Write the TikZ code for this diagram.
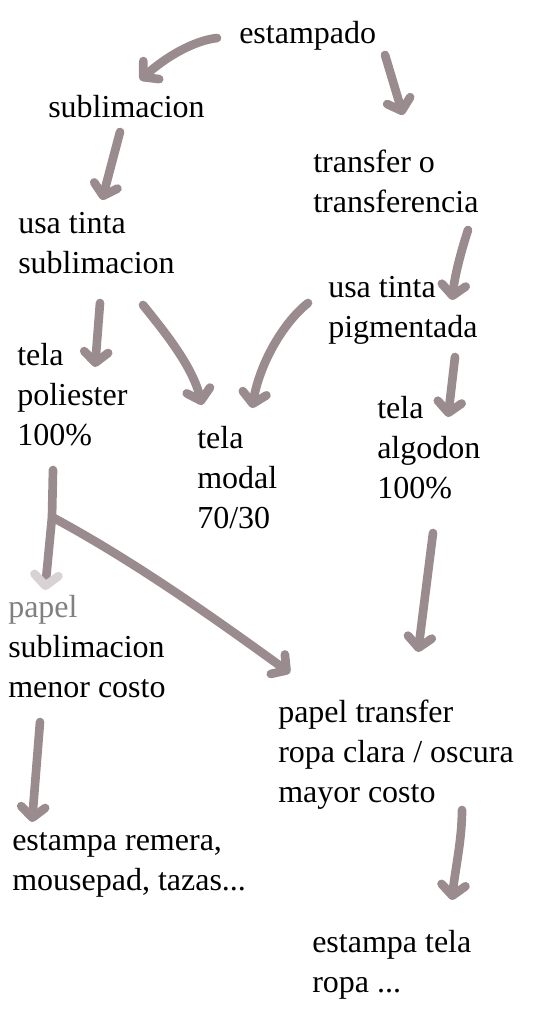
\documentclass[tikz,border=0pt]{standalone}
\usepackage{fontspec}
\setmainfont{Liberation Serif}
\usetikzlibrary{arrows.meta,calc}

\definecolor{inkbrown}{RGB}{154,140,142}
\definecolor{inkpale}{RGB}{216,210,212}
\definecolor{textgray}{RGB}{128,128,128}

\tikzset{
  lbl/.style={anchor=base west, inner sep=0pt, align=left,
    font=\fontsize{24}{30}\selectfont},
  pen/.style={draw=inkbrown, line width=6.5pt, line cap=round, line join=round,
    -{Straight Barb[length=8pt,width=18pt,round]}},
  palehead/.style={-{Straight Barb[length=8pt,width=18pt,round,color=inkpale]}}
}

\begin{document}
\begin{tikzpicture}[x=0.75pt,y=-0.75pt]
  \useasboundingbox (0,0) rectangle (544,1021);

  % texts (placed at the baseline of their last line)
  \node[lbl] (estampado) at (239,43) {estampado};
  \node[lbl] (sublim) at (48,117) {sublimacion};
  \node[lbl] (transfer) at (313,212) {transfer o\\transferencia};
  \node[lbl] (usaS) at (18,273) {usa tinta\\sublimacion};
  \node[lbl] (usaP) at (328,337) {usa tinta\\pigmentada};
  \node[lbl] (poli) at (17,445) {tela\\poliester\\100\%};
  \node[lbl] (modal) at (197,528) {tela\\modal\\70/30};
  \node[lbl] (algodon) at (377,498) {tela\\algodon\\100\%};
  \node[lbl] (papelS) at (8,697) {{\color{textgray}papel}\\sublimacion\\menor costo};
  \node[lbl] (papelT) at (278,802) {papel transfer\\ropa clara / oscura\\mayor costo};
  \node[lbl] (remera) at (12,890) {estampa remera,\\mousepad, tazas...};
  \node[lbl] (telaropa) at (312,992) {estampa tela\\ropa ...};

  % arrows
  \draw[pen] ($(estampado.base west)+(-22,-5)$) .. controls +(-25,3) and +(25,-22) .. ($(sublim.base west)+(92,-37)$);
  \draw[pen] ($(estampado.base west)+(146,12)$) -- ($(transfer.base west)+(90,-97)$);
  \draw[pen] ($(sublim.base west)+(72,15)$) -- ($(usaS.base west)+(84,-73)$);
  \draw[pen] ($(transfer.base west)+(155,18)$) .. controls +(-8,25) and +(3,-25) .. ($(usaP.base west)+(124,-37)$);
  \draw[pen] ($(usaS.base west)+(82,30)$) -- ($(poli.base west)+(78,-78)$);
  \draw[pen] ($(usaS.base west)+(125,32)$) .. controls +(20,25) and +(-10,-40) .. ($(modal.base west)+(5,-123)$);
  \draw[pen] ($(usaP.base west)+(-20,-34)$) .. controls +(-25,20) and +(8,-45) .. ($(modal.base west)+(55,-120)$);
  \draw[pen] ($(usaP.base west)+(127,20)$) -- ($(algodon.base west)+(71,-81)$);

  \coordinate (fork) at ($(poli.base west)+(35,72)$);
  \draw[pen,palehead] ($(poli.base west)+(36,25)$) -- (fork) -- ($(papelS.base west)+(37,-107)$);
  \draw[pen] (fork) .. controls +(80,43) and +(-80,-58) .. ($(papelT.base west)+(12,-129)$);
  \draw[pen] ($(algodon.base west)+(56,35)$) -- ($(papelT.base west)+(140,-150)$);

  \draw[pen] ($(papelS.base west)+(32,25)$) -- ($(remera.base west)+(20,-68)$);
  \draw[pen] ($(papelT.base west)+(184,8)$) .. controls +(0,30) and +(3,-30) .. ($(telaropa.base west)+(140,-92)$);
\end{tikzpicture}
\end{document}
